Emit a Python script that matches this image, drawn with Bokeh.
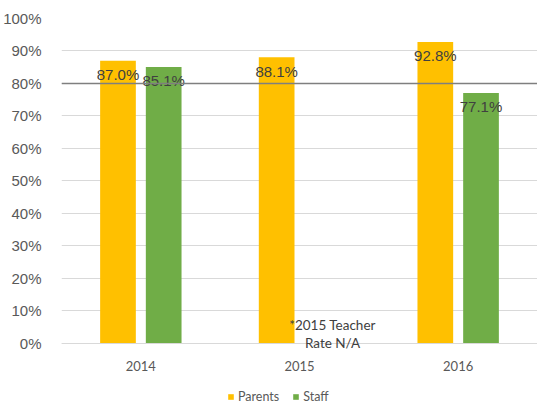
from bokeh.plotting import figure
from bokeh.models import ColumnDataSource, FactorRange, Span, Legend, LegendItem, Label, PrintfTickFormatter, FixedTicker
from bokeh.transform import dodge
from bokeh.embed import file_html
from bokeh.resources import INLINE

years = ["2014", "2015", "2016"]
parents = [87.0, 88.1, 92.8]
staff = [85.1, None, 77.1]
target = 80
note = ["*2015 Teacher", "Rate N/A"]
y_ticks = list(range(0, 101, 10))

PARENT_C = "#FFC000"
STAFF_C = "#70AD47"

p_src = ColumnDataSource(dict(x=years, y=parents, lab=[f"{v:.1f}%" for v in parents]))
s_years = [y for y, v in zip(years, staff) if v is not None]
s_vals = [v for v in staff if v is not None]
s_src = ColumnDataSource(dict(x=s_years, y=s_vals, lab=[f"{v:.1f}%" for v in s_vals]))

p = figure(width=537, height=406, x_range=FactorRange(*years, start=0, end=2.98),
           y_range=(-19.4, 100), output_backend="svg", toolbar_location=None,
           min_border_left=60, min_border_right=0, min_border_top=18, min_border_bottom=0)
p.outline_line_color = None
p.background_fill_color = "white"

off = 0.144
w = 0.225
r1 = p.vbar(x=dodge("x", -off, range=p.x_range), top="y", width=w, source=p_src,
            fill_color=PARENT_C, line_color=None)
r2 = p.vbar(x=dodge("x", off, range=p.x_range), top="y", width=w, source=s_src,
            fill_color=STAFF_C, line_color=None)

for src, o in ((p_src, -off), (s_src, off)):
    p.text(x=dodge("x", o, range=p.x_range), y="y", text="lab", source=src,
           text_align="center", text_baseline="middle", y_offset=14,
           text_font_size="15px", text_color="#404040", text_font={"value": "Liberation Sans"})

p.add_layout(Span(location=target, dimension="width", line_color="#7f7f7f", line_width=1.5))

for i, t in enumerate(note):
    p.add_layout(Label(x=331 - 60, y=82 - i * 18, x_units="screen", y_units="screen",
                       text=t, text_align="center", text_baseline="middle",
                       text_font_size="13.5px", text_color="#404040", text_font="Lato"))

p.yaxis.ticker = FixedTicker(ticks=y_ticks)
p.yaxis.formatter = PrintfTickFormatter(format="%d%%")
p.yaxis.axis_line_color = None
p.yaxis.major_tick_line_color = None
p.yaxis.minor_tick_line_color = None
p.yaxis.major_label_text_font = "Liberation Sans"
p.yaxis.major_label_text_font_size = "15px"
p.yaxis.major_label_text_color = "#595959"
p.yaxis.major_label_standoff = 14

p.xaxis.fixed_location = 0
p.xaxis.axis_line_color = "#d9d9d9"
p.xaxis.major_tick_line_color = None
p.xaxis.major_label_text_font = "Lato"
p.xaxis.major_label_text_font_size = "13px"
p.xaxis.major_label_text_color = "#595959"
p.xaxis.major_label_standoff = 12

p.xgrid.grid_line_color = None
p.ygrid.ticker = FixedTicker(ticks=y_ticks)
p.ygrid.grid_line_color = "#d9d9d9"
p.ygrid.grid_line_width = 1

legend = Legend(items=[LegendItem(label="Parents", renderers=[r1]),
                       LegendItem(label="Staff", renderers=[r2])],
                orientation="horizontal", location=(166, 2),
                label_text_font="Lato", label_text_font_size="12.5px", label_text_color="#595959",
                glyph_width=7, glyph_height=7, label_standoff=4, spacing=13,
                padding=0, margin=0, border_line_color=None, background_fill_alpha=0)
p.add_layout(legend, "center")

open("out.html", "w").write(file_html(p, INLINE))
